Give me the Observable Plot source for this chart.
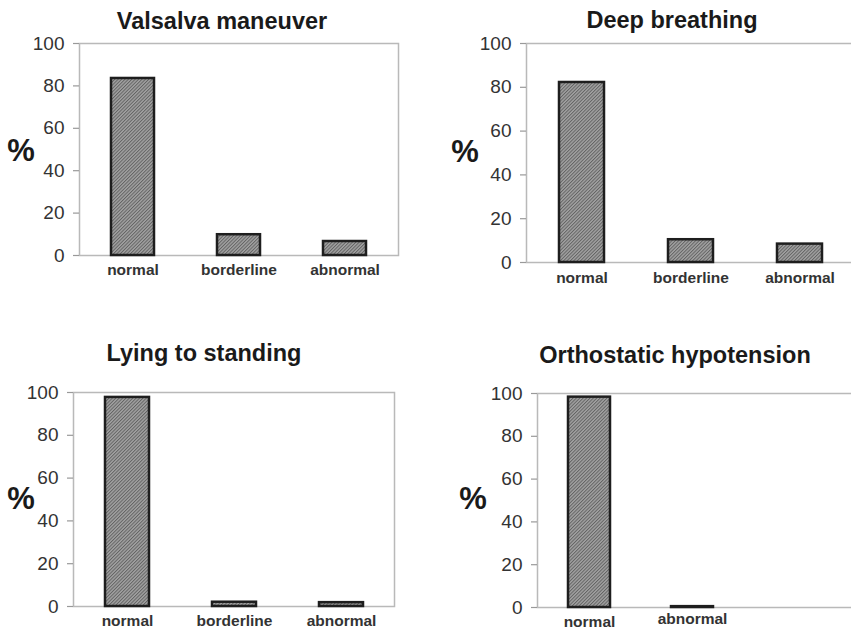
<!DOCTYPE html>
<html><head><meta charset="utf-8">
<script src="https://cdn.jsdelivr.net/npm/d3@7"></script>
<script src="https://cdn.jsdelivr.net/npm/@observablehq/plot@0.6"></script>
<style>
body{margin:0;background:#fff;}
#chart{position:relative;width:851px;height:630px;overflow:hidden;font-family:"Liberation Sans",Arial,sans-serif;}
.panel{position:absolute;}
.title{position:absolute;font-weight:bold;font-size:23.5px;color:#1a1a1a;transform:translate(-50%,-50%);white-space:nowrap;line-height:1.15;}
.pct{position:absolute;font-weight:bold;font-size:31px;color:#1a1a1a;transform:translate(-50%,-50%);line-height:1.15;}
</style></head><body>
<svg width="0" height="0" style="position:absolute"><defs>
<pattern id="hatch" patternUnits="userSpaceOnUse" width="2.4" height="2.4" patternTransform="rotate(45)">
<rect width="2.4" height="2.4" fill="#a2a2a2"></rect>
<line x1="0.5" y1="0" x2="0.5" y2="2.4" stroke="#5e5e5e" stroke-width="0.9"></line>
</pattern></defs></svg>
<div id="chart"></div>
<script>
// ---- data ----
const titles = ["Valsalva maneuver", "Deep breathing", "Lying to standing", "Orthostatic hypotension"];
const categories3 = ["normal", "borderline", "abnormal"];
const categories2 = ["normal", "abnormal"];
const valsalva = [83.5, 9.8, 6.6];
const deepBreathing = [82.2, 10.4, 8.4];
const lyingToStanding = [97.7, 2.0, 1.8];
const orthostatic = [98.3, 0.4];
const yTicks = [0, 20, 40, 60, 80, 100];
const yLabel = "%";

// ---- layout ----
const panels = [
  {title: titles[0], cats: categories3, vals: valsalva, left: 0, top: 0, width: 425, height: 300,
   mL: 79, mR: 27, mT: 43, mB: 45, range: null, tx: 222, ty: 22, px: 21, py: 151, pads: [8, 8, 8]},
  {title: titles[1], cats: categories3, vals: deepBreathing, left: 430, top: 0, width: 421, height: 300,
   mL: 96, mR: -6, mT: 43, mB: 38, range: [96, 425], tx: 672, ty: 21, px: 465, py: 152, pads: [9, 9, 9]},
  {title: titles[2], cats: categories3, vals: lyingToStanding, left: 0, top: 330, width: 425, height: 300,
   mL: 73, mR: 31, mT: 62, mB: 24, range: null, tx: 204, ty: 354, px: 21, py: 499, pads: [8.5, 8.5, 8.5]},
  {title: titles[3], cats: categories2, vals: orthostatic, left: 430, top: 330, width: 421, height: 300,
   mL: 107, mR: -20, mT: 63, mB: 23, range: [108, 314], tx: 675, ty: 356, px: 473, py: 499, pads: [8.5, 5]}
];

const chart = document.getElementById("chart");
const font = "'Liberation Sans', Arial, sans-serif";

for (const p of panels) {
  const rows = p.cats.map((c, i) => ({category: c, value: p.vals[i]}));
  const xScale = {domain: p.cats, paddingInner: 0.59, paddingOuter: 0.295};
  if (p.range) xScale.range = p.range;
  const svg = Plot.plot({
    width: p.width, height: p.height,
    marginLeft: p.mL, marginRight: p.mR, marginTop: p.mT, marginBottom: p.mB,
    style: {fontFamily: font, background: "transparent", overflow: "hidden"},
    x: xScale,
    y: {domain: [0, 100]},
    marks: [
      Plot.frame({stroke: "#b9b9b9", strokeWidth: 1.5}),
      Plot.axisY(yTicks, {tickSize: 6, tickPadding: 9, fontSize: 19, fill: "#333", stroke: "#999", strokeWidth: 1.2, label: null}),
      ...p.cats.map((c, i) => Plot.axisX([c], {tickSize: 0, tickPadding: p.pads[i], fontSize: 15.5, fontWeight: "bold", fill: "#333", label: null})),
      Plot.barY(rows, {x: "category", y: "value", fill: "url(#hatch)", stroke: "#1e1e1e", strokeWidth: 2.5})
    ]
  });
  svg.classList.add("panel");
  svg.style.left = p.left + "px";
  svg.style.top = p.top + "px";
  chart.appendChild(svg);

  const t = document.createElement("div");
  t.className = "title";
  t.textContent = p.title;
  t.style.left = p.tx + "px";
  t.style.top = p.ty + "px";
  chart.appendChild(t);

  const pc = document.createElement("div");
  pc.className = "pct";
  pc.textContent = yLabel;
  pc.style.left = p.px + "px";
  pc.style.top = p.py + "px";
  chart.appendChild(pc);
}
</script>
</body></html>
